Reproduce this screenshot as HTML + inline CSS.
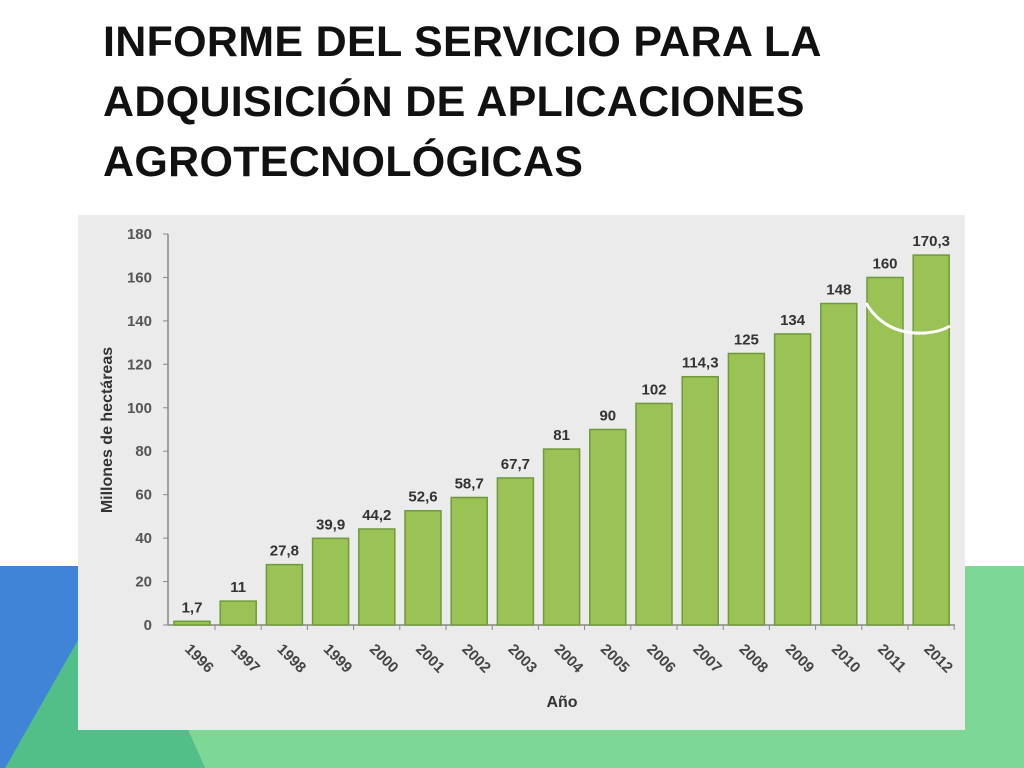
<!DOCTYPE html>
<html><head><meta charset="utf-8"><style>
body{margin:0;width:1024px;height:768px;overflow:hidden;background:#fff;position:relative;font-family:"Liberation Sans",sans-serif}
#title{position:absolute;left:103px;top:12px;margin:0;font-family:"Liberation Sans Narrow","Liberation Sans",sans-serif;font-weight:bold;font-size:43px;line-height:60px;color:#111;letter-spacing:0.3px}
svg{position:absolute;left:0;top:0}
</style></head><body>
<svg width="1024" height="768">
<rect x="0" y="566" width="600" height="202" fill="#3f84d6"/>
<polygon points="500,566 1024,566 1024,768 205,768 188,730" fill="#7dd795"/>
<polygon points="78,640 300,640 188,730 205,768 5,768" fill="#52be88"/>
</svg>
<h1 id="title">INFORME DEL SERVICIO PARA LA<br>ADQUISICIÓN DE APLICACIONES<br>AGROTECNOLÓGICAS</h1>
<svg id="chart" width="1024" height="768">
<rect x="78" y="215" width="887" height="515" fill="#ebebeb"/>
<g id="g"></g>
</svg>
<script>
const years=["1996","1997","1998","1999","2000","2001","2002","2003","2004","2005","2006","2007","2008","2009","2010","2011","2012"];
const values=[1.7,11,27.8,39.9,44.2,52.6,58.7,67.7,81,90,102,114.3,125,134,148,160,170.3];
const valueLabels=["1,7","11","27,8","39,9","44,2","52,6","58,7","67,7","81","90","102","114,3","125","134","148","160","170,3"];
const yTicks=[0,20,40,60,80,100,120,140,160,180];
const NS="http://www.w3.org/2000/svg";
const g=document.getElementById('g');
const y=v=>625-v*(391/180);
const x=i=>192+i*46.2;
function mk(t,a,p){const e=document.createElementNS(NS,t);for(const k in a)e.setAttribute(k,a[k]);(p||g).appendChild(e);return e;}
let ax=mk('line',{x1:168,y1:y(180),x2:168,y2:y(0),stroke:'#888','stroke-width':1.5});


let bx=mk('line',{x1:168,y1:y(0),x2:955,y2:y(0),stroke:'#888','stroke-width':1.5});


yTicks.forEach(t=>{
 mk('line',{x1:163,y1:y(t),x2:168,y2:y(t),stroke:'#888'});
 const e=mk('text',{x:152,y:y(t)+5,'text-anchor':'end','font-size':15,'font-weight':'bold',fill:'#555'});
 e.textContent=t;
 
 
});
years.forEach((yr,i)=>{
 const r=mk('rect',{x:x(i)-18,y:y(values[i]),width:36,height:y(0)-y(values[i]),fill:'#9bc255',stroke:'#6f9a3a','stroke-width':1.5});
 
 
 const l=mk('text',{x:x(i),y:y(values[i])-9,'text-anchor':'middle','font-size':15,'font-weight':'bold',fill:'#333'});
 l.textContent=valueLabels[i];
 
 
 const tx=x(i)-8,ty=650;
 const yl=mk('text',{x:tx,y:ty,'font-size':15,'font-weight':'bold',fill:'#444',transform:`rotate(45 ${tx} ${ty})`});
 yl.textContent=yr;
 
 
 mk('line',{x1:x(i)+23,y1:y(0),x2:x(i)+23,y2:y(0)+5,stroke:'#888'});
});
const xt=mk('text',{x:562,y:707,'text-anchor':'middle','font-size':16,'font-weight':'bold',fill:'#333'});
xt.textContent='Año';


const yt=mk('text',{x:112,y:430,'text-anchor':'middle','font-size':16,'font-weight':'bold',fill:'#333',transform:'rotate(-90 112 430)'});
yt.textContent='Millones de hectáreas';


const arc=mk('path',{d:'M866,303 Q885,335 925,333 Q940,332 950,326',fill:'none',stroke:'#fff','stroke-width':3});


</script>
</body></html>
